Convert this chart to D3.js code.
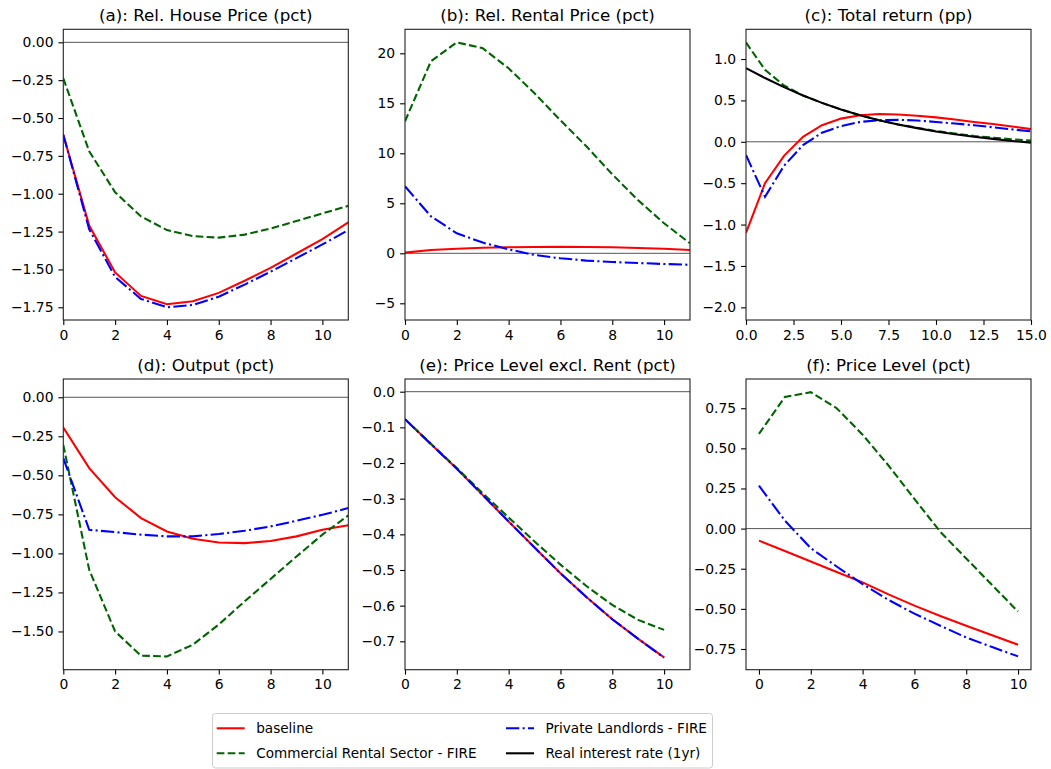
<!DOCTYPE html>
<html>
<head>
<meta charset="utf-8">
<style>
  body { margin: 0; background: #fff; }
  svg text { font-family: "DejaVu Sans", sans-serif; fill: #000; }
</style>
</head>
<body>
<div id="chart"></div>
<script src="https://d3js.org/d3.v7.min.js"></script>
<script>
// horizons
const periods10 = [0, 1, 2, 3, 4, 5, 6, 7, 8, 9, 10];
const periods11 = [0, 1, 2, 3, 4, 5, 6, 7, 8, 9, 10, 11];
const periods15 = [0, 1, 2, 3, 4, 5, 6, 7, 8, 9, 10, 11, 12, 13, 14, 15];

const seriesNames = ["baseline", "Commercial Rental Sector - FIRE", "Private Landlords - FIRE", "Real interest rate (1yr)"];

// (a) relative house price
const houseBase = [-0.61, -1.21, -1.52, -1.675, -1.73, -1.71, -1.655, -1.575, -1.49, -1.395, -1.30, -1.19];
const houseComm = [-0.238, -0.72, -0.99, -1.15, -1.24, -1.28, -1.29, -1.27, -1.23, -1.18, -1.13, -1.08];
const housePriv = [-0.61, -1.235, -1.55, -1.695, -1.75, -1.735, -1.68, -1.60, -1.515, -1.425, -1.335, -1.24];

// (b) relative rental price
const rentBase = [0.07, 0.33, 0.45, 0.55, 0.6, 0.63, 0.64, 0.63, 0.6, 0.53, 0.45, 0.33];
const rentComm = [13.2, 19.2, 21.1, 20.5, 18.5, 16.0, 13.3, 10.7, 7.9, 5.3, 3.0, 1.0];
const rentPriv = [6.7, 3.7, 2.0, 1.07, 0.4, -0.17, -0.5, -0.73, -0.87, -0.97, -1.07, -1.15];

// (c) total return
const retBase = [-1.10, -0.50, -0.17, 0.06, 0.20, 0.28, 0.32, 0.335, 0.33, 0.315, 0.295, 0.27, 0.24, 0.215, 0.185, 0.153];
const retComm = [1.20, 0.87, 0.68, 0.56, 0.47, 0.39, 0.32, 0.26, 0.21, 0.17, 0.13, 0.10, 0.07, 0.05, 0.03, 0.015];
const retPriv = [-0.16, -0.665, -0.29, -0.04, 0.11, 0.19, 0.24, 0.26, 0.265, 0.258, 0.24, 0.22, 0.20, 0.175, 0.15, 0.125];
const realRate = [0.89, 0.77, 0.66, 0.56, 0.47, 0.39, 0.32, 0.26, 0.21, 0.165, 0.125, 0.09, 0.06, 0.035, 0.01, -0.01];

// (d) output
const outBase = [-0.194, -0.454, -0.64, -0.774, -0.86, -0.906, -0.93, -0.934, -0.921, -0.891, -0.849, -0.82];
const outComm = [-0.305, -1.105, -1.50, -1.655, -1.66, -1.585, -1.456, -1.307, -1.164, -1.02, -0.88, -0.757];
const outPriv = [-0.39, -0.849, -0.864, -0.88, -0.891, -0.891, -0.876, -0.855, -0.827, -0.791, -0.753, -0.71];

// (e) price level excl. rent
const cpixBase = [-0.077, -0.147, -0.216, -0.29, -0.364, -0.437, -0.509, -0.576, -0.638, -0.693, -0.745];
const cpixComm = [-0.077, -0.146, -0.214, -0.285, -0.353, -0.42, -0.485, -0.545, -0.598, -0.64, -0.668];
const cpixPriv = [-0.077, -0.147, -0.216, -0.29, -0.364, -0.437, -0.509, -0.576, -0.638, -0.693, -0.746];

// (f) price level
const cpiBase = [-0.075, -0.14, -0.205, -0.27, -0.335, -0.41, -0.48, -0.545, -0.605, -0.665, -0.723];
const cpiComm = [0.59, 0.82, 0.85, 0.75, 0.585, 0.393, 0.185, -0.02, -0.186, -0.352, -0.517];
const cpiPriv = [0.267, 0.05, -0.122, -0.236, -0.346, -0.444, -0.53, -0.605, -0.678, -0.738, -0.796];

// tick labels
const ticksA = [0, -0.25, -0.5, -0.75, -1, -1.25, -1.5, -1.75];
const ticksB = [20, 15, 10, 5, 0, -5];
const ticksC = [1, 0.5, 0, -0.5, -1, -1.5, -2];
const ticksD = [0, -0.25, -0.5, -0.75, -1, -1.25, -1.5];
const ticksE = [0, -0.1, -0.2, -0.3, -0.4, -0.5, -0.6, -0.7];
const ticksF = [0.75, 0.5, 0.25, 0, -0.25, -0.5, -0.75];
const xTicks10 = [0, 2, 4, 6, 8, 10];
const xTicks15 = [0, 2.5, 5, 7.5, 10, 12.5, 15];

// styles
const colors = ["red", "darkgreen", "blue", "black"];
const dashes = [null, "7.7,3.3", "13.3,3.3,2.1,3.3", null];

const panels = [
  {title: "(a): Rel. House Price (pct)", x: periods11, xd: [0, 11], xt: xTicks10, xf: "d",
   yd: [-1.834, 0.086], yt: ticksA, yf: ".2f", lines: [houseBase, houseComm, housePriv]},
  {title: "(b): Rel. Rental Price (pct)", x: periods11, xd: [0, 11], xt: xTicks10, xf: "d",
   yd: [-6.67, 22.4], yt: ticksB, yf: "d", lines: [rentBase, rentComm, rentPriv]},
  {title: "(c): Total return (pp)", x: periods15, xd: [0, 15], xt: xTicks15, xf: ".1f",
   yd: [-2.153, 1.359], yt: ticksC, yf: ".1f", lines: [retBase, retComm, retPriv, realRate]},
  {title: "(d): Output (pct)", x: periods11, xd: [0, 11], xt: xTicks10, xf: "d",
   yd: [-1.745, 0.117], yt: ticksD, yf: ".2f", lines: [outBase, outComm, outPriv]},
  {title: "(e): Price Level excl. Rent (pct)", x: periods10, xd: [0, 11], xt: xTicks10, xf: "d",
   yd: [-0.7796, 0.0356], yt: ticksE, yf: ".1f", lines: [cpixBase, cpixComm, cpixPriv]},
  {title: "(f): Price Level (pct)", x: periods10, xd: [-0.5, 10.5], xt: xTicks10, xf: "d",
   yd: [-0.879, 0.932], yt: ticksF, yf: ".2f", lines: [cpiBase, cpiComm, cpiPriv]}
];

const width = 1051, height = 769;
const colLeft = [63.3, 405, 746], rowTop = [29.3, 379];
const pw = 285, ph = 290.7;

const svg = d3.select("#chart").append("svg")
  .attr("width", width).attr("height", height);

panels.forEach((p, i) => {
  const left = colLeft[i % 3], top = rowTop[Math.floor(i / 3)];
  const x = d3.scaleLinear().domain(p.xd).range([0, pw]);
  const y = d3.scaleLinear().domain(p.yd).range([ph, 0]);
  const g = svg.append("g").attr("transform", `translate(${left},${top})`);

  g.append("clipPath").attr("id", "clip" + i)
    .append("rect").attr("width", pw).attr("height", ph);

  const plot = g.append("g").attr("clip-path", `url(#clip${i})`);

  // zero line
  plot.append("line")
    .attr("x1", 0).attr("x2", pw)
    .attr("y1", y(0)).attr("y2", y(0))
    .attr("stroke", "#555").attr("stroke-width", 1);

  const line = d3.line().x((d, k) => x(p.x[k])).y(d => y(d));
  p.lines.forEach((vals, k) => {
    plot.append("path")
      .datum(vals)
      .attr("d", line)
      .attr("fill", "none")
      .attr("stroke", colors[k])
      .attr("stroke-width", 2.08)
      .attr("stroke-dasharray", dashes[k]);
  });

  const yAxis = g.append("g")
    .call(d3.axisLeft(y).tickValues(p.yt).tickFormat(d3.format(p.yf)).tickSize(4.9).tickPadding(4.9));
  const xAxis = g.append("g").attr("transform", `translate(0,${ph})`)
    .call(d3.axisBottom(x).tickValues(p.xt).tickFormat(d3.format(p.xf)).tickSize(4.9).tickPadding(4.9));
  [yAxis, xAxis].forEach(a => {
    a.select(".domain").remove();
    a.selectAll(".tick line").attr("stroke", "#000").attr("stroke-width", 1.1);
    a.selectAll(".tick text").attr("font-size", 13.9).attr("font-family", "DejaVu Sans");
  });

  g.append("rect")
    .attr("width", pw).attr("height", ph)
    .attr("fill", "none").attr("stroke", "#222").attr("stroke-width", 1.1);

  g.append("text")
    .attr("x", pw / 2).attr("y", -8)
    .attr("text-anchor", "middle")
    .attr("font-size", 16.7)
    .text(p.title);
});

// legend
const leg = svg.append("g");
leg.append("rect")
  .attr("x", 212.5).attr("y", 713.5).attr("width", 500).attr("height", 54.5)
  .attr("rx", 3).attr("fill", "#fff").attr("fill-opacity", 0.8)
  .attr("stroke", "#ccc").attr("stroke-width", 1);
const legCols = [216.7, 506], legRows = [728.3, 753.3];
seriesNames.forEach((name, k) => {
  const cx = legCols[Math.floor(k / 2)], cy = legRows[k % 2];
  leg.append("line")
    .attr("x1", cx).attr("x2", cx + 28)
    .attr("y1", cy).attr("y2", cy)
    .attr("stroke", colors[k]).attr("stroke-width", 2.08)
    .attr("stroke-dasharray", dashes[k]);
  leg.append("text")
    .attr("x", cx + 39.5).attr("y", cy)
    .attr("dy", "0.35em")
    .attr("font-size", 13.6)
    .text(name);
});
</script>
</body>
</html>
